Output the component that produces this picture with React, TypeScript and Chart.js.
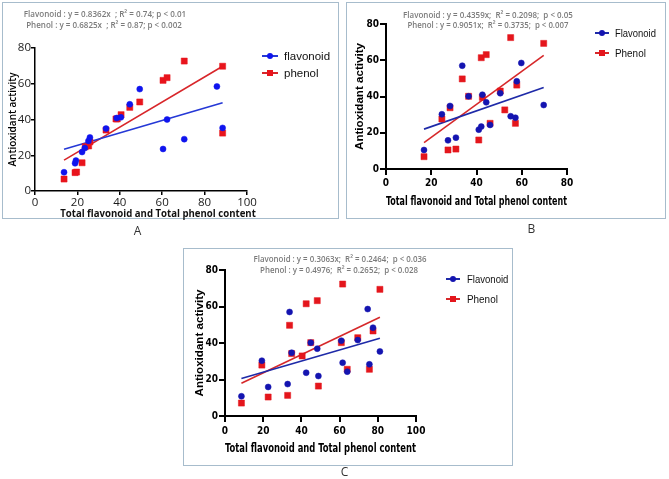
import React, { useEffect, useLayoutEffect, useRef, useState } from "react";
import { Chart, registerables } from "chart.js";

Chart.register(...registerables);

// ---------------- DATA ----------------
// Panel A
const A_FLAV_X = [13.7, 18.9, 19.3, 22.2, 23.5, 25.2, 25.9, 33.5, 38.5, 40.5, 44.7, 49.4, 60.4, 62.3, 70.4, 85.8, 88.5];
const A_FLAV_Y = [10.5, 15.5, 17.0, 21.8, 24.0, 28.0, 30.0, 34.9, 40.8, 41.2, 48.5, 57.0, 23.5, 40.0, 29.0, 58.5, 35.3];
const A_PHEN_X = [13.7, 18.9, 19.6, 22.2, 23.7, 25.3, 25.9, 33.5, 38.2, 38.8, 40.6, 44.7, 49.4, 60.4, 62.3, 70.4, 88.5, 88.5];
const A_PHEN_Y = [6.7, 10.3, 10.6, 15.8, 24.8, 25.2, 27.5, 34.1, 40.3, 40.3, 42.7, 46.8, 49.8, 61.9, 63.4, 72.7, 69.8, 32.4];
const A_FLAV_FIT_X = [13.7, 88.5];
const A_FLAV_FIT_Y = [23.3, 49.4];
const A_PHEN_FIT_X = [13.7, 88.5];
const A_PHEN_FIT_Y = [17.3, 69.8];

// Panel B
const B_FLAV_X = [16.8, 24.7, 28.3, 27.4, 30.9, 33.7, 36.5, 41.0, 42.1, 42.6, 44.3, 46.0, 50.5, 55.1, 57.2, 57.8, 59.8, 69.7];
const B_FLAV_Y = [10.5, 30.2, 34.8, 15.8, 17.3, 57.0, 40.1, 21.7, 23.4, 41.0, 36.8, 24.3, 41.8, 29.1, 28.3, 48.4, 58.5, 35.3];
const B_PHEN_X = [16.8, 24.7, 28.3, 27.4, 30.9, 33.7, 36.5, 41.0, 42.1, 44.3, 42.6, 46.0, 50.5, 52.5, 55.1, 57.2, 57.8, 69.7];
const B_PHEN_Y = [6.8, 27.6, 33.8, 10.5, 11.0, 49.7, 40.1, 16.0, 61.4, 63.1, 39.5, 25.2, 43.0, 32.6, 72.5, 25.2, 46.3, 69.3];
const B_FLAV_FIT_X = [16.8, 69.7];
const B_FLAV_FIT_Y = [22.0, 44.9];
const B_PHEN_FIT_X = [16.8, 69.7];
const B_PHEN_FIT_Y = [14.5, 62.7];

// Panel C
const C_FLAV_X = [8.6, 19.3, 22.6, 32.8, 33.8, 34.9, 42.5, 44.9, 48.3, 48.9, 60.9, 61.6, 64.0, 69.5, 74.7, 75.6, 77.5, 81.1];
const C_FLAV_Y = [10.8, 30.3, 15.9, 17.5, 57.0, 34.7, 23.7, 40.2, 36.9, 21.9, 41.3, 29.2, 24.3, 41.6, 58.6, 28.3, 48.4, 35.4];
const C_PHEN_X = [8.6, 19.3, 22.6, 32.8, 33.8, 34.9, 40.4, 42.5, 44.9, 48.3, 48.9, 60.9, 61.6, 64.0, 69.5, 75.6, 77.5, 81.1];
const C_PHEN_Y = [7.1, 27.9, 10.4, 11.3, 49.7, 34.2, 32.9, 61.5, 40.2, 63.2, 16.4, 40.2, 72.3, 25.6, 42.9, 25.6, 46.6, 69.4];
const C_FLAV_FIT_X = [8.6, 81.1];
const C_FLAV_FIT_Y = [20.5, 42.6];
const C_PHEN_FIT_X = [8.6, 81.1];
const C_PHEN_FIT_Y = [17.9, 54.1];

// Ticks
const Y_TICKS = [0, 20, 40, 60, 80];
const X_TICKS_100 = [0, 20, 40, 60, 80, 100];
const X_TICKS_80 = [0, 20, 40, 60, 80];

// Text
const Y_TITLE = "Antioxidant activity";
const X_TITLE = "Total flavonoid and Total phenol content";
const A_LABELS = ["flavonoid", "phenol"];
const BC_LABELS = ["Flavonoid", "Phenol"];
const A_EQ = ["Flavonoid : y = 0.8362x  ; R\u00B2 = 0.74; p < 0.01", "Phenol : y = 0.6825x  ; R\u00B2 = 0.87; p < 0.002"];
const B_EQ = ["Flavonoid : y = 0.4359x;  R\u00B2 = 0.2098;  p < 0.05", "Phenol : y = 0.9051x;  R\u00B2 = 0.3735;  p < 0.007"];
const C_EQ = ["Flavonoid : y = 0.3063x;  R\u00B2 = 0.2464;  p < 0.036", "Phenol : y = 0.4976;  R\u00B2 = 0.2652;  p < 0.028"];

// ---------------- STYLE ----------------
const NARROW = '"DejaVu Sans Condensed", "Liberation Sans", sans-serif';
const ARIAL = '"Liberation Sans", Arial, sans-serif';
const OPEN = '"Open Sans", "Noto Sans", sans-serif';
const BORDER = "#a7bccc";

const zip = (xs: number[], ys: number[]) => xs.map((x, i) => ({ x, y: ys[i] }));

type PanelCfg = {
  left: number; top: number; width: number; height: number;
  padding: { left: number; right: number; top: number; bottom: number };
  yWidth: number; xHeight: number;
  xMax: number; xTicks: number[];
  flavX: number[]; flavY: number[]; phenX: number[]; phenY: number[];
  fFitX: number[]; fFitY: number[]; pFitX: number[]; pFitY: number[];
  labels: string[];
  flavColor: string; phenColor: string; flavLine: string; phenLine: string;
  tickFont: any; tickColor: string; tickLength: number; xTickPad: number; yTickPad: number;
  yTitleFont: any; yTitlePad: number;
  xTitleFont: any | null; xTitlePad: number;
  axisWidth: number; lineWidth: number;
};

function ScatterPanel({ cfg }: { cfg: PanelCfg }) {
  const ref = useRef<HTMLCanvasElement>(null);
  useEffect(() => {
    if (!ref.current) return;
    const c = cfg;
    const chart = new Chart(ref.current, {
      type: "scatter",
      data: {
        datasets: [
          {
            label: c.labels[0], data: zip(c.flavX, c.flavY), pointStyle: "circle", pointRadius: 3,
            backgroundColor: c.flavColor, borderColor: c.flavColor, borderWidth: 0.5, showLine: false,
          },
          {
            label: c.labels[1], data: zip(c.phenX, c.phenY), pointStyle: "rect", pointRadius: 4.3,
            backgroundColor: c.phenColor, borderColor: c.phenColor, borderWidth: 0.5, showLine: false,
          },
          {
            label: "fit1", data: zip(c.fFitX, c.fFitY), showLine: true, pointRadius: 0,
            borderColor: c.flavLine, borderWidth: c.lineWidth, fill: false,
          },
          {
            label: "fit2", data: zip(c.pFitX, c.pFitY), showLine: true, pointRadius: 0,
            borderColor: c.phenLine, borderWidth: c.lineWidth, fill: false,
          },
        ],
      } as any,
      options: {
        responsive: false,
        maintainAspectRatio: false,
        animation: false,
        devicePixelRatio: 1,
        events: [],
        layout: { padding: c.padding },
        plugins: { legend: { display: false }, tooltip: { enabled: false }, title: { display: false } },
        scales: {
          x: {
            type: "linear", min: 0, max: c.xMax,
            afterBuildTicks: (s: any) => { s.ticks = c.xTicks.map((v) => ({ value: v })); },
            afterFit: (s: any) => { s.height = c.xHeight; },
            grid: { display: true, drawOnChartArea: false, drawTicks: true, tickLength: c.tickLength, color: "#000", lineWidth: c.axisWidth, tickWidth: c.axisWidth },
            border: { display: true, color: "#000", width: c.axisWidth },
            ticks: { font: c.tickFont, color: c.tickColor, padding: c.xTickPad, maxRotation: 0, autoSkip: false },
            title: c.xTitleFont
              ? { display: true, text: X_TITLE, font: c.xTitleFont, color: "#000", padding: { top: 0, bottom: c.xTitlePad } }
              : { display: false },
          },
          y: {
            type: "linear", min: 0, max: 80,
            afterBuildTicks: (s: any) => { s.ticks = Y_TICKS.map((v) => ({ value: v })); },
            afterFit: (s: any) => { s.width = c.yWidth; },
            grid: { display: true, drawOnChartArea: false, drawTicks: true, tickLength: c.tickLength, color: "#000", lineWidth: c.axisWidth, tickWidth: c.axisWidth },
            border: { display: true, color: "#000", width: c.axisWidth },
            ticks: { font: c.tickFont, color: c.tickColor, padding: c.yTickPad, autoSkip: false },
            title: { display: true, text: Y_TITLE, font: c.yTitleFont, color: "#000", padding: { top: c.yTitlePad, bottom: 0 } },
          },
        },
      } as any,
    });
    return () => chart.destroy();
  }, [cfg]);
  return (
    <canvas
      ref={ref}
      width={cfg.width}
      height={cfg.height}
      style={{ position: "absolute", left: cfg.left, top: cfg.top, width: cfg.width, height: cfg.height }}
    />
  );
}

function FitText({ x, y, w, text, style, anchor = "center" }: { x: number; y: number; w?: number; text: string; style: any; anchor?: string }) {
  const ref = useRef<HTMLSpanElement>(null);
  const [s, setS] = useState(1);
  useLayoutEffect(() => {
    const el = ref.current;
    if (!el || !w) return;
    const nat = el.offsetWidth;
    if (nat > 0) setS(w / nat);
  }, [w, text]);
  const tx = anchor === "center" ? "-50%" : "0";
  return (
    <span
      ref={ref}
      style={{
        position: "absolute", left: x, top: y, whiteSpace: "pre", lineHeight: 1,
        transform: `translate(${tx}, -50%) scaleX(${s})`,
        transformOrigin: anchor === "center" ? "center center" : "left center",
        ...style,
      }}
    >
      {text}
    </span>
  );
}

function LegendItem({ cx, y, lineW, color, lineColor, shape, text, textX, textW, font }: any) {
  return (
    <>
      <div style={{ position: "absolute", left: cx - lineW / 2, top: y - 1, width: lineW, height: 2, background: lineColor }} />
      <div
        style={{
          position: "absolute", left: cx - 3, top: y - 3, width: 6, height: 6, background: color,
          borderRadius: shape === "circle" ? "50%" : 0,
        }}
      />
      <FitText x={textX} y={y} w={textW} text={text} anchor="left" style={{ font, color: "#111" }} />
    </>
  );
}

const PANEL_A: PanelCfg = {
  left: 3, top: 3, width: 334, height: 214,
  padding: { left: 0, right: 90, top: 45, bottom: 0 },
  yWidth: 32, xHeight: 26, xMax: 100, xTicks: X_TICKS_100,
  flavX: A_FLAV_X, flavY: A_FLAV_Y, phenX: A_PHEN_X, phenY: A_PHEN_Y,
  fFitX: A_FLAV_FIT_X, fFitY: A_FLAV_FIT_Y, pFitX: A_PHEN_FIT_X, pFitY: A_PHEN_FIT_Y,
  labels: A_LABELS,
  flavColor: "#0f14ee", phenColor: "#e8141c", flavLine: "#2538d6", phenLine: "#d8262a",
  tickFont: { family: OPEN, size: 11.5, weight: "normal" }, tickColor: "#1a1a1a", tickLength: 4, xTickPad: 1, yTickPad: 0,
  yTitleFont: { family: OPEN, size: 10, weight: "600" }, yTitlePad: 4,
  xTitleFont: null, xTitlePad: 0,
  axisWidth: 1.5, lineWidth: 1.6,
};

const PANEL_B: PanelCfg = {
  left: 347, top: 3, width: 318, height: 214,
  padding: { left: 0, right: 98, top: 21, bottom: 0 },
  yWidth: 39, xHeight: 48, xMax: 80, xTicks: X_TICKS_80,
  flavX: B_FLAV_X, flavY: B_FLAV_Y, phenX: B_PHEN_X, phenY: B_PHEN_Y,
  fFitX: B_FLAV_FIT_X, fFitY: B_FLAV_FIT_Y, pFitX: B_PHEN_FIT_X, pFitY: B_PHEN_FIT_Y,
  labels: BC_LABELS,
  flavColor: "#1414b0", phenColor: "#e4161c", flavLine: "#1e2aa8", phenLine: "#d6282a",
  tickFont: { family: NARROW, size: 10, weight: "bold" }, tickColor: "#000", tickLength: 6, xTickPad: 2, yTickPad: 1,
  yTitleFont: { family: ARIAL, size: 11.6, weight: "bold" }, yTitlePad: 6,
  xTitleFont: { family: NARROW, size: 12.5, weight: "bold" }, xTitlePad: 7.5,
  axisWidth: 2, lineWidth: 1.6,
};

const PANEL_C: PanelCfg = {
  left: 184, top: 249, width: 328, height: 216,
  padding: { left: 0, right: 96, top: 21, bottom: 0 },
  yWidth: 41, xHeight: 49, xMax: 100, xTicks: X_TICKS_100,
  flavX: C_FLAV_X, flavY: C_FLAV_Y, phenX: C_PHEN_X, phenY: C_PHEN_Y,
  fFitX: C_FLAV_FIT_X, fFitY: C_FLAV_FIT_Y, pFitX: C_PHEN_FIT_X, pFitY: C_PHEN_FIT_Y,
  labels: BC_LABELS,
  flavColor: "#1414b0", phenColor: "#e4161c", flavLine: "#1e2aa8", phenLine: "#d6282a",
  tickFont: { family: NARROW, size: 10, weight: "bold" }, tickColor: "#000", tickLength: 6, xTickPad: 3, yTickPad: 1,
  yTitleFont: { family: ARIAL, size: 11.6, weight: "bold" }, yTitlePad: 8.5,
  xTitleFont: { family: NARROW, size: 13, weight: "bold" }, xTitlePad: 8.9,
  axisWidth: 2, lineWidth: 1.6,
};

const EQ_STYLE = { fontFamily: OPEN, fontSize: 9, fontWeight: 600, color: "#7b7b7b" };
const LBL_STYLE = { fontFamily: OPEN, fontSize: 12, color: "#333" };

export default function App() {
  return (
    <div style={{ position: "absolute", left: 0, top: 0, width: 669, height: 479, background: "#fff", overflow: "hidden" }}>
      {/* Panel boxes */}
      <div style={{ position: "absolute", left: 2, top: 2, width: 337, height: 217, border: `1.5px solid ${BORDER}`, boxSizing: "border-box" }} />
      <div style={{ position: "absolute", left: 346, top: 2, width: 320, height: 217, border: `1.5px solid ${BORDER}`, boxSizing: "border-box" }} />
      <div style={{ position: "absolute", left: 183, top: 248, width: 330, height: 218, border: `1.5px solid ${BORDER}`, boxSizing: "border-box" }} />

      <ScatterPanel cfg={PANEL_A} />
      <ScatterPanel cfg={PANEL_B} />
      <ScatterPanel cfg={PANEL_C} />

      {/* Panel A texts */}
      <FitText x={105} y={13} w={162} text={A_EQ[0]} style={EQ_STYLE} />
      <FitText x={104} y={24} w={156} text={A_EQ[1]} style={EQ_STYLE} />
      <FitText x={158} y={213} w={196} text={X_TITLE} style={{ fontFamily: OPEN, fontSize: 10.5, fontWeight: 700, color: "#111" }} />
      <LegendItem cx={270} y={56} lineW={16} color="#0f14ee" lineColor="#2538d6" shape="circle" text={A_LABELS[0]} textX={284} textW={46} font={`11.5px ${ARIAL}`} />
      <LegendItem cx={270} y={73} lineW={16} color="#e8141c" lineColor="#d8262a" shape="rect" text={A_LABELS[1]} textX={284} textW={35} font={`11.5px ${ARIAL}`} />
      <FitText x={137.5} y={231} text="A" style={LBL_STYLE} />

      {/* Panel B texts */}
      <FitText x={488} y={14} w={170} text={B_EQ[0]} style={EQ_STYLE} />
      <FitText x={488} y={24} w={161} text={B_EQ[1]} style={EQ_STYLE} />
      <LegendItem cx={602} y={33} lineW={14} color="#1414b0" lineColor="#1e2aa8" shape="circle" text={BC_LABELS[0]} textX={615} textW={41} font={`11.5px ${ARIAL}`} />
      <LegendItem cx={602} y={53} lineW={14} color="#e4161c" lineColor="#d6282a" shape="rect" text={BC_LABELS[1]} textX={615} textW={31} font={`11.5px ${ARIAL}`} />
      <FitText x={531.5} y={229} text="B" style={LBL_STYLE} />

      {/* Panel C texts */}
      <FitText x={340} y={258} w={173} text={C_EQ[0]} style={EQ_STYLE} />
      <FitText x={339} y={269} w={158} text={C_EQ[1]} style={EQ_STYLE} />
      <LegendItem cx={452.5} y={279} lineW={14} color="#1414b0" lineColor="#1e2aa8" shape="circle" text={BC_LABELS[0]} textX={466.5} textW={41.5} font={`11.5px ${ARIAL}`} />
      <LegendItem cx={452.5} y={299} lineW={14} color="#e4161c" lineColor="#d6282a" shape="rect" text={BC_LABELS[1]} textX={466.5} textW={31} font={`11.5px ${ARIAL}`} />
      <FitText x={344.5} y={472} text="C" style={LBL_STYLE} />
    </div>
  );
}
